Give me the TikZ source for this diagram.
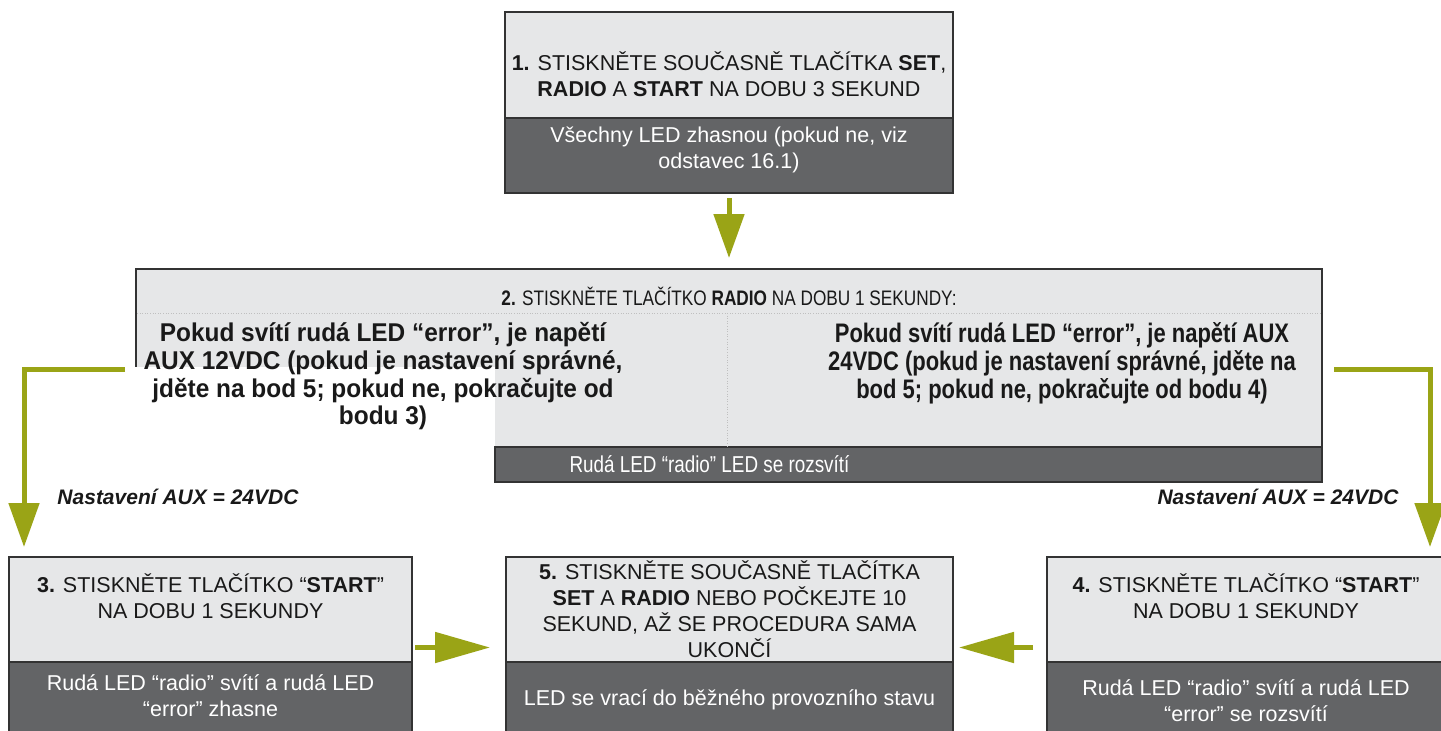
\documentclass[tikz,border=0pt]{standalone}
\usepackage{fontspec}
\setmainfont{Liberation Sans}
\newfontfamily\narrowfont[FakeStretch=0.82]{Liberation Sans}
\newfontfamily\semifont[FakeStretch=0.95]{Liberation Sans}
\usetikzlibrary{positioning,arrows.meta}

\definecolor{litegray}{RGB}{230,231,232}
\definecolor{bargray}{RGB}{99,100,102}
\definecolor{arrowgreen}{RGB}{154,164,22}

\tikzset{
  lite/.style={draw=black!80, line width=1.5pt, fill=litegray, inner sep=0pt, outer sep=0pt},
  dark/.style={draw=black!80, line width=1.5pt, fill=bargray, inner sep=0pt, outer sep=0pt},
  txt/.style={align=center, text=black!90, font=\fontsize{21.5}{26}\selectfont},
  wtxt/.style={txt, text=white},
  headtxt/.style={align=center, text=black!90, font=\narrowfont\fontsize{21}{26}\selectfont},
  bartxt/.style={text=white, font=\narrowfont\fontsize{23}{26}\selectfont},
  lefttxt/.style={align=center, text=black!90, font=\semifont\bfseries\fontsize{25.7}{27.7}\selectfont},
  righttxt/.style={align=center, text=black!90, font=\narrowfont\bfseries\fontsize{26.8}{28}\selectfont},
  note/.style={text=black!90, font=\bfseries\itshape\fontsize{21}{26}\selectfont},
  faint/.style={draw=black!25, dotted, line width=0.6pt},
  vflow/.style={draw=arrowgreen, line width=5pt, -{Triangle[length=44pt,width=30pt]}},
  hflow/.style={draw=arrowgreen, line width=5pt, -{Triangle[length=55pt,width=30pt]}}
}

\begin{document}
\begin{tikzpicture}[x=1pt, y=-1pt]
  \fill[white] (0,0) rectangle (1441,731);
  \useasboundingbox (0,0) rectangle (1441,731);

  % krok 1
  \node[lite, minimum width=448pt, minimum height=106pt] (b1) at (729,65) {};
  \node[dark, minimum width=448pt, minimum height=75pt, below=0pt of b1] (b1r) {};
  \node[txt] (t1) at (729,74.5) {\textbf{1.} STISKNĚTE SOUČASNĚ TLAČÍTKA \textbf{SET},\\\textbf{RADIO} A \textbf{START} NA DOBU 3 SEKUND};
  \node[wtxt] (t1r) at (729,150) {Všechny LED zhasnou (pokud ne, viz\\odstavec 16.1)};

  % krok 2
  \node[lite, minimum width=1186pt, minimum height=178pt] (b2) at (729,358) {};
  \node[fill=white, inner sep=0pt, minimum width=370pt, minimum height=122pt, anchor=north west] (mask) at (125,367) {};
  \node[dark, minimum width=827pt, minimum height=35pt, anchor=north east] (b2r) at (b2.south east) {};
  \draw[faint] (137,313) -- (1321,313);
  \draw[faint] (727,313) -- (727,447);
  \node[headtxt] (t2) at (729,296) {\textbf{2.} STISKNĚTE TLAČÍTKO \textbf{RADIO} NA DOBU 1 SEKUNDY:};
  \node[lefttxt] (t2l) at (383,376.5) {Pokud svítí rudá LED “error”, je napětí\\AUX 12VDC (pokud je nastavení správné,\\jděte na bod 5; pokud ne, pokračujte od\\bodu 3)};
  \node[righttxt] (t2p) at (1062,363) {Pokud svítí rudá LED “error”, je napětí AUX\\24VDC (pokud je nastavení správné, jděte na\\bod 5; pokud ne, pokračujte od bodu 4)};
  \node[bartxt, anchor=west] (t2r) at (566,464) {Rudá LED “radio” LED se rozsvítí};

  % kroky 3, 5, 4
  \node[lite, minimum width=403pt, minimum height=105pt] (b3) at (210.5,609.5) {};
  \node[dark, minimum width=403pt, minimum height=80pt, below=0pt of b3] (b3r) {};
  \node[lite, minimum width=447pt, minimum height=105pt] (b5) at (729.5,609.5) {};
  \node[dark, minimum width=447pt, minimum height=80pt, below=0pt of b5] (b5r) {};
  \node[lite, minimum width=403pt, minimum height=105pt] (b4) at (1248.5,609.5) {};
  \node[dark, minimum width=403pt, minimum height=80pt, below=0pt of b4] (b4r) {};

  \node[txt] (t3) at (210.5,596) {\textbf{3.} STISKNĚTE TLAČÍTKO “\textbf{START}”\\NA DOBU 1 SEKUNDY};
  \node[wtxt] (t3r) at (210.5,696) {Rudá LED “radio” svítí a rudá LED\\“error” zhasne};
  \node[txt] (t5) at (729.5,609) {\textbf{5.} STISKNĚTE SOUČASNĚ TLAČÍTKA\\\textbf{SET} A \textbf{RADIO} NEBO POČKEJTE 10\\SEKUND, AŽ SE PROCEDURA SAMA\\UKONČÍ};
  \node[wtxt] (t5r) at (729.5,700) {LED se vrací do běžného provozního stavu};
  \node[txt] (t4) at (1246,596) {\textbf{4.} STISKNĚTE TLAČÍTKO “\textbf{START}”\\NA DOBU 1 SEKUNDY};
  \node[wtxt] (t4r) at (1246,701) {Rudá LED “radio” svítí a rudá LED\\“error” se rozsvítí};

  \node[note] (n3) at (178,497) {Nastavení AUX = 24VDC};
  \node[note] (n4) at (1278,497) {Nastavení AUX = 24VDC};

  % sipky
  \coordinate (rout) at (1334,369);
  \draw[vflow, shorten <=5pt, shorten >=11pt] (b1r.south) -- (b2.north);
  \draw[vflow, shorten >=10pt] ([yshift=-2pt]mask.north west) -| ([xshift=15pt]b3.north west);
  \draw[vflow, shorten >=10pt] (rout) -| ([xshift=-20pt]b4.north east);
  \draw[hflow, shorten <=3pt, shorten >=16pt] ([yshift=-38pt]b3.east) -- ([yshift=-38pt]b5.west);
  \draw[hflow, shorten <=14pt, shorten >=6pt] ([yshift=-38pt]b4.west) -- ([yshift=-38pt]b5.east);
\end{tikzpicture}
\end{document}
